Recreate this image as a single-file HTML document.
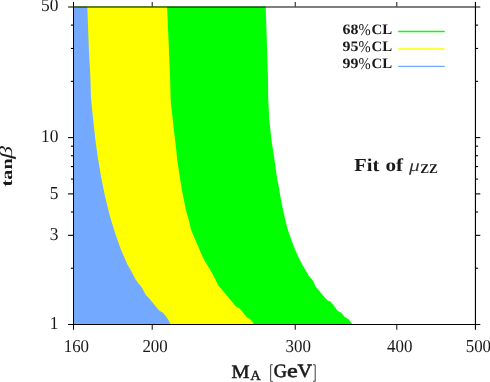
<!DOCTYPE html>
<html><head><meta charset="utf-8"><title>Fit of mu_ZZ</title>
<style>
html,body{margin:0;padding:0;background:#fff;}
body{width:490px;height:382px;overflow:hidden;}
svg{display:block;text-rendering:geometricPrecision;will-change:transform;filter:grayscale(0);font-family:"Liberation Serif",serif;fill:#1a1a1a;}
</style></head><body>
<svg width="490" height="382" viewBox="0 0 490 382">
<rect width="490" height="382" fill="#fff"/>
<g>
<polygon points="74.00,6.55 74.00,325.12 352.80,325.12 350.60,321.70 348.60,319.20 344.50,316.80 341.20,312.70 337.55,310.65 333.60,305.30 330.50,301.60 327.60,300.45 325.35,298.20 322.10,294.20 318.90,290.50 315.60,286.40 313.20,281.10 310.70,277.90 308.35,275.20 305.10,269.60 301.40,263.10 298.20,256.50 294.70,248.70 292.20,242.10 290.20,236.40 288.20,230.70 286.50,225.00 284.20,215.00 282.15,205.40 280.10,194.80 278.50,185.00 277.35,180.00 276.00,170.40 274.65,160.60 273.00,150.00 271.40,139.20 269.20,118.80 268.20,98.40 268.00,78.00 265.70,6.55" fill="#00ff00"/>
<polygon points="74.00,6.55 74.00,324.50 254.20,324.50 252.50,322.10 250.00,319.20 247.20,317.60 244.30,314.30 241.90,311.10 239.20,308.20 236.00,306.40 232.00,301.80 227.50,296.30 222.60,290.60 218.20,285.20 214.20,277.00 210.10,269.70 205.60,262.30 204.20,260.00 200.90,252.90 198.10,246.30 195.60,240.60 193.20,234.90 191.10,230.00 188.80,220.00 187.10,214.50 185.10,206.30 183.50,198.20 181.90,190.00 180.90,183.70 179.70,176.30 178.50,168.20 177.25,160.00 176.30,150.40 175.05,139.50 173.90,130.00 172.70,118.80 171.00,104.50 170.60,98.40 170.10,78.00 167.10,6.55" fill="#ffff00"/>
<polygon points="74.00,6.80 74.00,324.50 170.60,324.50 169.50,322.10 167.40,318.40 165.00,315.10 162.60,312.50 159.70,310.90 157.20,308.20 153.20,303.30 149.00,298.30 145.50,294.60 143.50,290.50 141.40,286.80 138.20,283.20 135.70,279.50 133.30,275.00 131.30,271.20 127.20,263.90 124.00,256.50 121.10,250.00 115.40,234.00 110.20,217.20 105.10,196.80 101.00,176.40 97.60,156.00 95.30,139.20 93.10,118.80 91.00,98.00 90.40,78.00 88.90,50.00 87.30,6.80" fill="#73aaff"/>
</g>
<g>
<rect x="68.1" y="6" width="412.20000000000005" height="2" fill="#000" opacity="0.5"/>
<rect x="68.1" y="324" width="412.20000000000005" height="1" fill="#000"/>
<rect x="73" y="1.9" width="1" height="327.90000000000003" fill="#000"/>
<rect x="474.88" y="1.9" width="1.14" height="327.90000000000003" fill="#000"/>
<line x1="152.23" y1="2.0" x2="152.23" y2="6.5" stroke="#000" stroke-width="1.15" opacity="0.8"/>
<line x1="152.23" y1="324.5" x2="152.23" y2="329.8" stroke="#000" stroke-width="1.15" opacity="0.85"/>
<line x1="295.28" y1="2.0" x2="295.28" y2="6.5" stroke="#000" stroke-width="1.15" opacity="0.8"/>
<line x1="295.28" y1="324.5" x2="295.28" y2="329.8" stroke="#000" stroke-width="1.15" opacity="0.85"/>
<line x1="396.77" y1="2.0" x2="396.77" y2="6.5" stroke="#000" stroke-width="1.15" opacity="0.8"/>
<line x1="396.77" y1="324.5" x2="396.77" y2="329.8" stroke="#000" stroke-width="1.15" opacity="0.85"/>
<line x1="68.1" y1="235.34" x2="73.5" y2="235.34" stroke="#000" stroke-width="1.1"/>
<line x1="475.5" y1="235.34" x2="480.3" y2="235.34" stroke="#000" stroke-width="1.1"/>
<line x1="68.1" y1="193.88" x2="73.5" y2="193.88" stroke="#000" stroke-width="1.1"/>
<line x1="475.5" y1="193.88" x2="480.3" y2="193.88" stroke="#000" stroke-width="1.1"/>
<line x1="68.1" y1="137.62" x2="73.5" y2="137.62" stroke="#000" stroke-width="1.1"/>
<line x1="475.5" y1="137.62" x2="480.3" y2="137.62" stroke="#000" stroke-width="1.1"/>
<line x1="70.9" y1="268.24" x2="73.5" y2="268.24" stroke="#000" stroke-width="1.1"/>
<line x1="475.5" y1="268.24" x2="478.1" y2="268.24" stroke="#000" stroke-width="1.1"/>
<line x1="70.9" y1="211.99" x2="73.5" y2="211.99" stroke="#000" stroke-width="1.1"/>
<line x1="475.5" y1="211.99" x2="478.1" y2="211.99" stroke="#000" stroke-width="1.1"/>
<line x1="70.9" y1="179.08" x2="73.5" y2="179.08" stroke="#000" stroke-width="1.1"/>
<line x1="475.5" y1="179.08" x2="478.1" y2="179.08" stroke="#000" stroke-width="1.1"/>
<line x1="70.9" y1="166.57" x2="73.5" y2="166.57" stroke="#000" stroke-width="1.1"/>
<line x1="475.5" y1="166.57" x2="478.1" y2="166.57" stroke="#000" stroke-width="1.1"/>
<line x1="70.9" y1="155.73" x2="73.5" y2="155.73" stroke="#000" stroke-width="1.1"/>
<line x1="475.5" y1="155.73" x2="478.1" y2="155.73" stroke="#000" stroke-width="1.1"/>
<line x1="70.9" y1="146.17" x2="73.5" y2="146.17" stroke="#000" stroke-width="1.1"/>
<line x1="475.5" y1="146.17" x2="478.1" y2="146.17" stroke="#000" stroke-width="1.1"/>
<line x1="70.9" y1="81.37" x2="73.5" y2="81.37" stroke="#000" stroke-width="1.1"/>
<line x1="475.5" y1="81.37" x2="478.1" y2="81.37" stroke="#000" stroke-width="1.1"/>
<line x1="70.9" y1="48.46" x2="73.5" y2="48.46" stroke="#000" stroke-width="1.1"/>
<line x1="475.5" y1="48.46" x2="478.1" y2="48.46" stroke="#000" stroke-width="1.1"/>
<line x1="70.9" y1="25.11" x2="73.5" y2="25.11" stroke="#000" stroke-width="1.1"/>
<line x1="475.5" y1="25.11" x2="478.1" y2="25.11" stroke="#000" stroke-width="1.1"/>
</g>
<g>
<text x="41.1" y="11.3" font-size="18.2" text-anchor="start" font-weight="normal" font-style="normal" textLength="17.4" lengthAdjust="spacingAndGlyphs" >50</text>
<text x="41.1" y="142.3" font-size="18.2" text-anchor="start" font-weight="normal" font-style="normal" textLength="17.4" lengthAdjust="spacingAndGlyphs" >10</text>
<text x="49.8" y="198.6" font-size="18.2" text-anchor="start" font-weight="normal" font-style="normal" textLength="8.7" lengthAdjust="spacingAndGlyphs" >5</text>
<text x="49.8" y="240.0" font-size="18.2" text-anchor="start" font-weight="normal" font-style="normal" textLength="8.7" lengthAdjust="spacingAndGlyphs" >3</text>
<text x="49.8" y="329.2" font-size="18.2" text-anchor="start" font-weight="normal" font-style="normal" textLength="8.7" lengthAdjust="spacingAndGlyphs" >1</text>
<text x="63.7" y="351.9" font-size="18.2" text-anchor="start" font-weight="normal" font-style="normal" textLength="25.4" lengthAdjust="spacingAndGlyphs" >160</text>
<text x="142.4" y="351.9" font-size="18.2" text-anchor="start" font-weight="normal" font-style="normal" textLength="25.4" lengthAdjust="spacingAndGlyphs" >200</text>
<text x="285.5" y="351.9" font-size="18.2" text-anchor="start" font-weight="normal" font-style="normal" textLength="25.4" lengthAdjust="spacingAndGlyphs" >300</text>
<text x="387.0" y="351.9" font-size="18.2" text-anchor="start" font-weight="normal" font-style="normal" textLength="25.4" lengthAdjust="spacingAndGlyphs" >400</text>
<text x="465.7" y="351.9" font-size="18.2" text-anchor="start" font-weight="normal" font-style="normal" textLength="25.4" lengthAdjust="spacingAndGlyphs" >500</text>
<text x="342.5" y="34.35" font-size="14.4" font-weight="bold" textLength="15.9" lengthAdjust="spacingAndGlyphs">68</text>
<text x="358.6" y="35.25" font-size="16.4" textLength="12.2" lengthAdjust="spacingAndGlyphs">%</text>
<text x="371.4" y="34.35" font-size="14.4" font-weight="bold" textLength="20.7" lengthAdjust="spacingAndGlyphs">CL</text>
<line x1="398.2" y1="31.52" x2="444.7" y2="31.52" stroke="#00ff00" stroke-width="1.4"/>
<text x="342.5" y="51.40" font-size="14.4" font-weight="bold" textLength="15.9" lengthAdjust="spacingAndGlyphs">95</text>
<text x="358.6" y="52.30" font-size="16.4" textLength="12.2" lengthAdjust="spacingAndGlyphs">%</text>
<text x="371.4" y="51.40" font-size="14.4" font-weight="bold" textLength="20.7" lengthAdjust="spacingAndGlyphs">CL</text>
<line x1="398.2" y1="48.95" x2="444.7" y2="48.95" stroke="#ffff00" stroke-width="1.55"/>
<text x="342.5" y="68.45" font-size="14.4" font-weight="bold" textLength="15.9" lengthAdjust="spacingAndGlyphs">99</text>
<text x="358.6" y="69.35" font-size="16.4" textLength="12.2" lengthAdjust="spacingAndGlyphs">%</text>
<text x="371.4" y="68.45" font-size="14.4" font-weight="bold" textLength="20.7" lengthAdjust="spacingAndGlyphs">CL</text>
<line x1="398.2" y1="66.35" x2="444.7" y2="66.35" stroke="#73aaff" stroke-width="1.3"/>
<text x="354.3" y="170.55" font-size="18.2" text-anchor="start" font-weight="bold" font-style="normal" textLength="25.0" lengthAdjust="spacingAndGlyphs" >Fit</text>
<text x="385.4" y="170.55" font-size="18.2" text-anchor="start" font-weight="bold" font-style="normal" textLength="17.6" lengthAdjust="spacingAndGlyphs" >of</text>
<text x="409.0" y="170.5" font-size="17" text-anchor="start" font-weight="normal" font-style="italic" textLength="10.8" lengthAdjust="spacingAndGlyphs" fill="#333">μ</text>
<text x="420.2" y="173.2" font-size="13.2" text-anchor="start" font-weight="bold" font-style="normal" textLength="17.7" lengthAdjust="spacingAndGlyphs" >ZZ</text>
<text x="231.6" y="377.5" font-size="19.2" text-anchor="start" font-weight="normal" font-style="normal" textLength="18.0" lengthAdjust="spacingAndGlyphs" stroke="#1a1a1a" stroke-width="0.55">M</text>
<text x="250.3" y="379.85" font-size="13.9" text-anchor="start" font-weight="normal" font-style="normal" textLength="10.6" lengthAdjust="spacingAndGlyphs" stroke="#1a1a1a" stroke-width="0.4">A</text>
<path d="M272.8,364.75H270.65V381.3H272.8" fill="none" stroke="#333" stroke-width="0.95"/>
<text x="273.75" y="377.4" font-size="18.9" text-anchor="start" font-weight="normal" font-style="normal" textLength="13.2" lengthAdjust="spacingAndGlyphs" stroke="#1a1a1a" stroke-width="0.6">G</text>
<text x="287.0" y="377.4" font-size="18.9" text-anchor="start" font-weight="normal" font-style="normal" textLength="10.7" lengthAdjust="spacingAndGlyphs" stroke="#1a1a1a" stroke-width="0.6">e</text>
<text x="297.55" y="377.4" font-size="18.9" text-anchor="start" font-weight="normal" font-style="normal" textLength="14.5" lengthAdjust="spacingAndGlyphs" stroke="#1a1a1a" stroke-width="0.6">V</text>
<path d="M313.0,364.75H315.2V381.3H313.0" fill="none" stroke="#333" stroke-width="0.95"/>
<g transform="translate(12.0,186.4) rotate(-90)"><text x="0" y="0" font-size="15.5" font-weight="bold" textLength="28" lengthAdjust="spacingAndGlyphs">tan</text><text x="27.6" y="0" font-size="18" font-style="italic" textLength="12.8" lengthAdjust="spacingAndGlyphs">β</text></g>
</g>
</svg>
</body></html>
